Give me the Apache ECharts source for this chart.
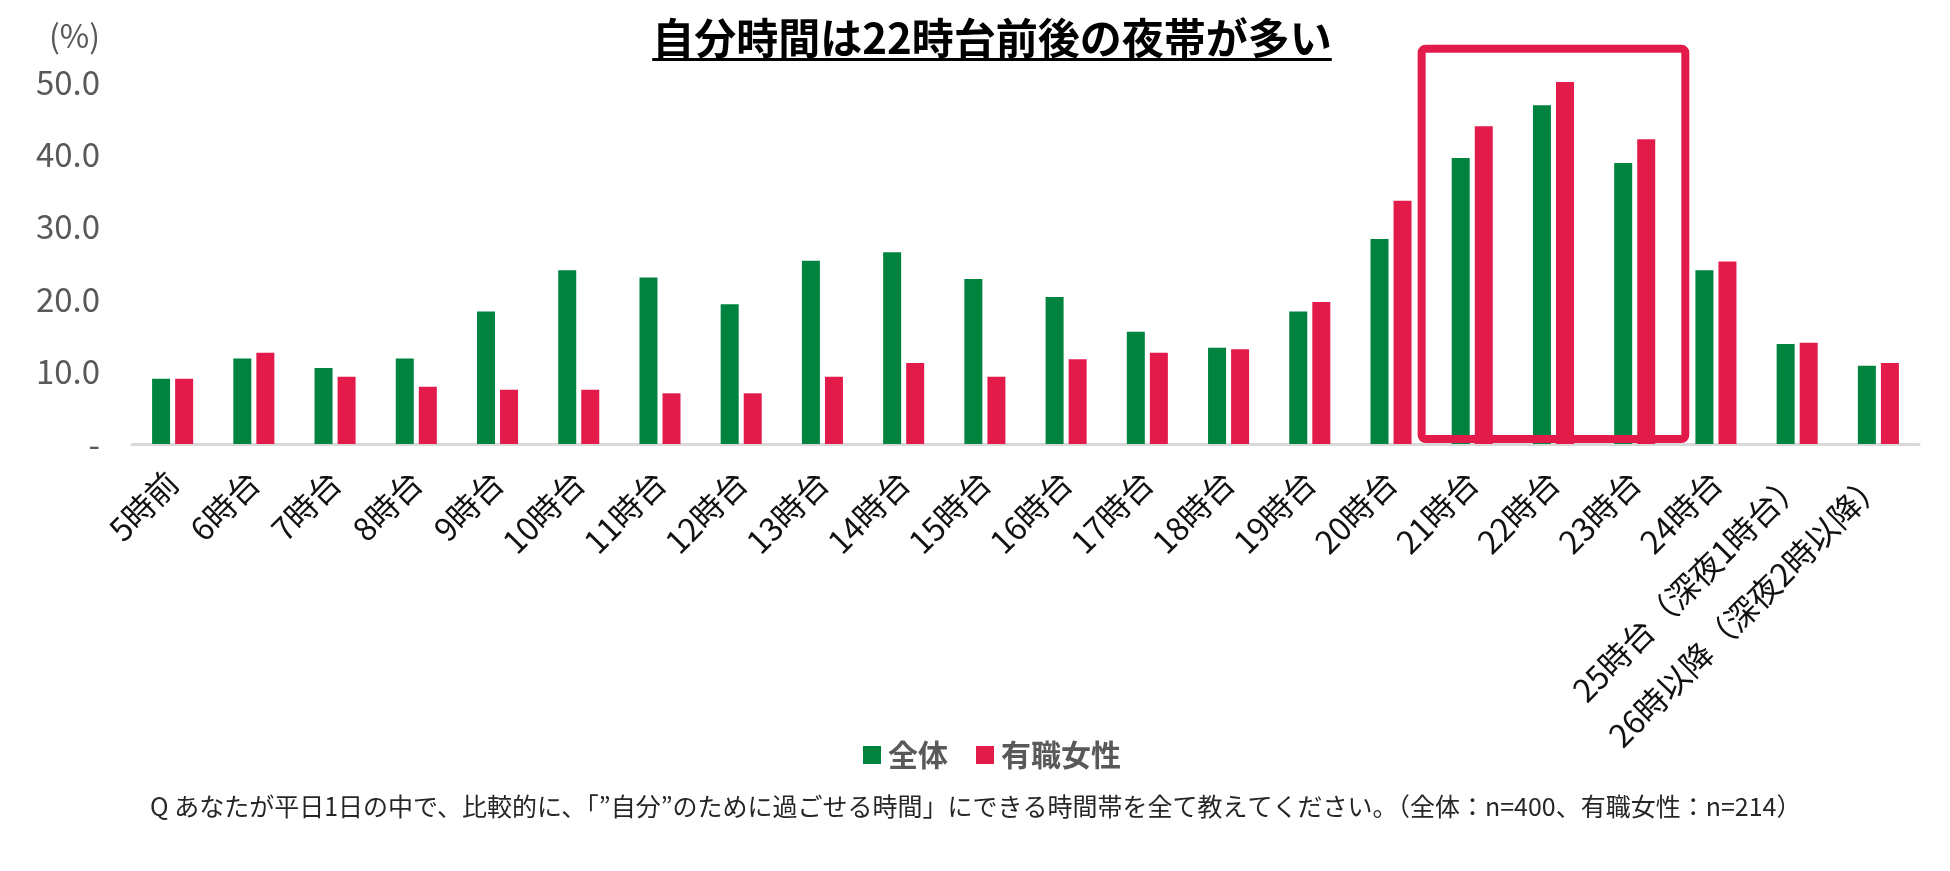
<!DOCTYPE html>
<html>
<head>
<meta charset="utf-8">
<script src="https://cdn.jsdelivr.net/npm/echarts@6/dist/echarts.min.js"></script>
<style>
html,body{margin:0;padding:0;background:#fff;}
#c{width:1950px;height:871px;}
</style>
</head>
<body>
<div id="c"></div>
<script>
const categories = ['5時前','6時台','7時台','8時台','9時台','10時台','11時台','12時台','13時台','14時台','15時台','16時台','17時台','18時台','19時台','20時台','21時台','22時台','23時台','24時台','25時台（深夜1時台）','26時以降（深夜2時以降）'];
const seriesNames = ['全体','有職女性'];
const allValues = [9.0, 11.8, 10.5, 11.8, 18.3, 24.0, 23.0, 19.3, 25.3, 26.5, 22.8, 20.3, 15.5, 13.3, 18.3, 28.3, 39.5, 46.8, 38.8, 24.0, 13.8, 10.8];
const womenValues = [9.0, 12.6, 9.3, 7.9, 7.5, 7.5, 7.0, 7.0, 9.3, 11.2, 9.3, 11.7, 12.6, 13.1, 19.6, 33.6, 43.9, 50.0, 42.1, 25.2, 14.0, 11.2];
const yTicks = [0, 10, 20, 30, 40, 50];
const highlightFrom = '21時台';
const highlightTo = '23時台';

const titleText = '自分時間は22時台前後の夜帯が多い';
const noteText = 'Q あなたが平日1日の中で、比較的に、「”自分”のために過ごせる時間」にできる時間帯を全て教えてください。（全体：n=400、有職女性：n=214）';

const GREEN = '#00833F';
const RED = '#E31B4B';
const FONT = '"Noto Sans CJK JP","Noto Sans",sans-serif';

const chart = echarts.init(document.getElementById('c'));

const titleFont = 'bold 42px ' + FONT;
const cv = document.createElement('canvas').getContext('2d');
cv.font = titleFont;
const tW = cv.measureText(titleText).width;
const tCx = 992, tCy = 38;

chart.setOption({
  animation: false,
  backgroundColor: '#fff',
  grid: {left: 132, right: 31, top: 82, bottom: 427, containLabel: false},
  legend: {
    data: seriesNames,
    left: 858, top: 735,
    icon: 'rect', itemWidth: 18, itemHeight: 18, itemGap: 28,
    textStyle: {fontFamily: FONT, fontSize: 30, fontWeight: 'bold', color: '#595959', padding: [0,0,0,2]}
  },
  xAxis: {
    type: 'category',
    data: categories,
    axisLine: {lineStyle: {color: '#D9D9D9', width: 3}},
    axisTick: {show: false},
    axisLabel: {rotate: 45, interval: 0, margin: 33, fontFamily: FONT, fontSize: 32, color: '#111'}
  },
  yAxis: {
    type: 'value', min: yTicks[0], max: yTicks[yTicks.length-1], interval: 10,
    splitLine: {show: false}, axisLine: {show: false}, axisTick: {show: false},
    axisLabel: {margin: 32, fontFamily: FONT, fontSize: 33, color: '#595959',
      formatter: v => v === 0 ? '-' : v.toFixed(1)}
  },
  series: [
    {name: seriesNames[0], type: 'bar', data: allValues, barWidth: 18, barGap: '28%', itemStyle: {color: GREEN}},
    {name: seriesNames[1], type: 'bar', data: womenValues, barWidth: 18, barGap: '28%', itemStyle: {color: RED}}
  ]
});

const c1 = chart.convertToPixel({xAxisIndex: 0}, highlightFrom);
const c2 = chart.convertToPixel({xAxisIndex: 0}, highlightTo);
const bw = chart.convertToPixel({xAxisIndex: 0}, categories[1]) - chart.convertToPixel({xAxisIndex: 0}, categories[0]);
const yTop = chart.convertToPixel({yAxisIndex: 0}, 54.6);
const yBase = chart.convertToPixel({yAxisIndex: 0}, 0);
const rx = c1 - bw/2 - 10, rx2 = c2 + bw/2 + 10;

chart.setOption({
  graphic: [
    {type: 'text', x: tCx, y: tCy, style: {text: titleText, font: titleFont, fill: '#000', textAlign: 'center', textVerticalAlign: 'middle'}},
    {type: 'rect', shape: {x: tCx - tW/2, y: 58, width: tW, height: 3}, style: {fill: '#000'}},
    {type: 'text', x: 100, y: 36, style: {text: '(%)', font: '32px ' + FONT, fill: '#595959', textAlign: 'right', textVerticalAlign: 'middle'}},
    {type: 'rect', z: 10, shape: {x: rx, y: yTop, width: rx2 - rx, height: (yBase - 5) - yTop, r: 4},
      style: {fill: 'none', stroke: RED, lineWidth: 8}},
    {type: 'text', x: 150, y: 806, style: {text: noteText, font: '25px ' + FONT, fill: '#262626', textAlign: 'left', textVerticalAlign: 'middle'}}
  ]
});
</script>
</body>
</html>
